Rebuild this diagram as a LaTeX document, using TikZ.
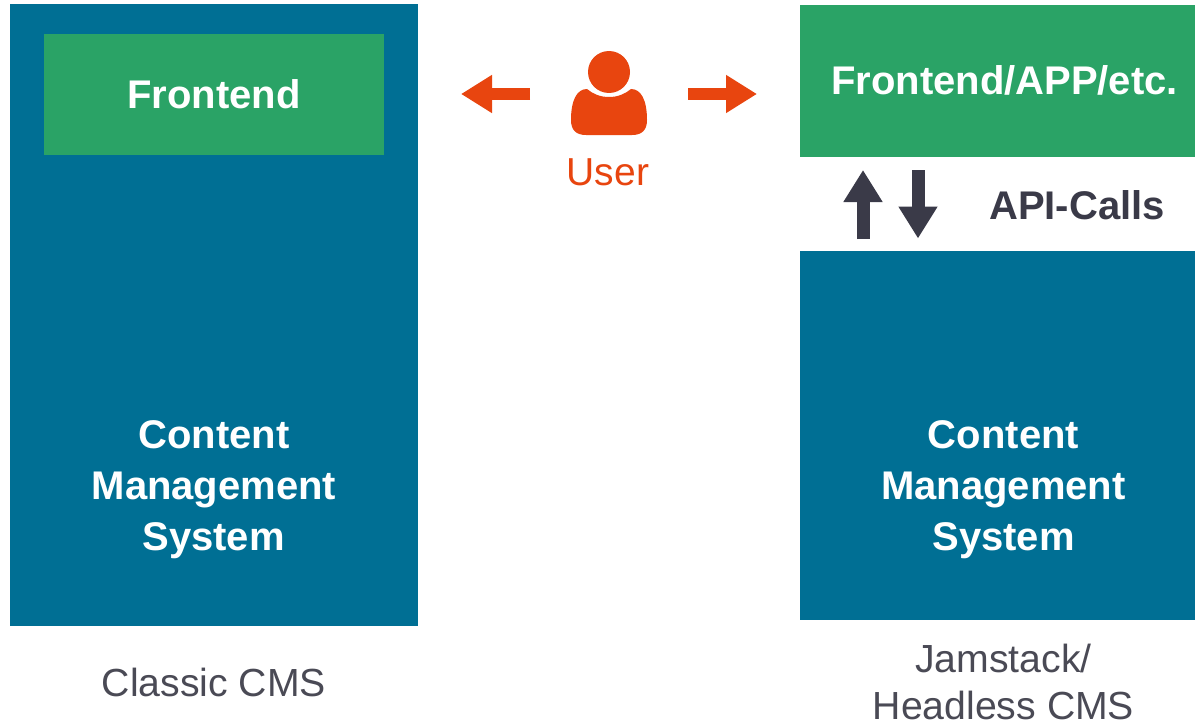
\documentclass[tikz,border=0pt]{standalone}
\usepackage{fontspec}
\setmainfont{Liberation Sans}
\usetikzlibrary{arrows.meta}
\definecolor{cmsblue}{HTML}{006F94}
\definecolor{fegreen}{HTML}{2AA366}
\definecolor{userorange}{HTML}{E8450F}
\definecolor{darkink}{HTML}{3A3A48}
\definecolor{labelgray}{HTML}{4A4A55}
\tikzset{
  bluebox/.style={fill=cmsblue,draw=none},
  greenbox/.style={fill=fegreen,draw=none},
  boxtext/.style={text=white,font=\fontsize{40}{51}\selectfont\bfseries,inner sep=0pt},
  captext/.style={text=labelgray,font=\fontsize{39.2}{48}\selectfont,inner sep=0pt},
  orangearrow/.style={draw=userorange,line width=12.5pt,-{Triangle[length=31pt,width=36pt]}},
  darkarrow/.style={draw=darkink,line width=13pt,-{Triangle[length=32pt,width=37pt]}},
}
\begin{document}
\begin{tikzpicture}[x=1pt,y=-1pt]
\useasboundingbox (0,0) rectangle (1195,725);
\fill[white] (0,0) rectangle (1195,725);
% boxes
\fill[bluebox] (10,4) rectangle (418,626);
\fill[greenbox] (44,34) rectangle (384,155);
\fill[greenbox] (800,5) rectangle (1195,157);
\fill[bluebox] (800,251) rectangle (1195,620);
% box texts
\node[boxtext,anchor=base] (feL) at (214,108) {Frontend};
\node[boxtext,anchor=base] (feR) at (1004.5,95) {Frontend/APP/etc.};
\node[boxtext,anchor=base] (cmsLa) at (214,448.5) {Content};
\node[boxtext,anchor=base] (cmsLb) at (214,499.5) {Management};
\node[boxtext,anchor=base] (cmsLc) at (213.5,550.5) {System};
\node[boxtext,anchor=base] (cmsRa) at (1003.5,448.5) {Content};
\node[boxtext,anchor=base] (cmsRb) at (1003.5,499.5) {Management};
\node[boxtext,anchor=base] (cmsRc) at (1003.5,550.5) {System};
\node[boxtext,anchor=base,text=darkink] (api) at (1077,219) {API-Calls};
% captions
\node[captext,anchor=base] (classic) at (214,696) {Classic CMS};
\node[captext,anchor=base] (jam) at (1003.5,672) {Jamstack/};
\node[captext,anchor=base] (headless) at (1003.5,719) {Headless CMS};
\node[captext,anchor=base,text=userorange,font=\fontsize{39}{48}\selectfont] (user) at (608,185) {User};
% user icon
\fill[userorange] (609,72) circle (21);
\fill[userorange] (587,89) .. controls (593,94) and (600,97) .. (609,97)
  .. controls (618,97) and (625,94) .. (631,89)
  .. controls (641,89) and (647,100) .. (647,120)
  .. controls (647,130) and (642,135) .. (632,135)
  -- (586,135)
  .. controls (576,135) and (571,130) .. (571,120)
  .. controls (571,100) and (577,89) .. (587,89) -- cycle;
% arrows
\coordinate (la0) at (530,94); \coordinate (la1) at (461,94);
\coordinate (ra0) at (688,94); \coordinate (ra1) at (757,94);
\coordinate (ua0) at (863,239); \coordinate (ua1) at (863,170);
\coordinate (da0) at (918,170); \coordinate (da1) at (918,238.5);
\draw[orangearrow] (la0) -- (la1);
\draw[orangearrow] (ra0) -- (ra1);
\draw[darkarrow] (ua0) -- (ua1);
\draw[darkarrow] (da0) -- (da1);
\end{tikzpicture}
\end{document}
